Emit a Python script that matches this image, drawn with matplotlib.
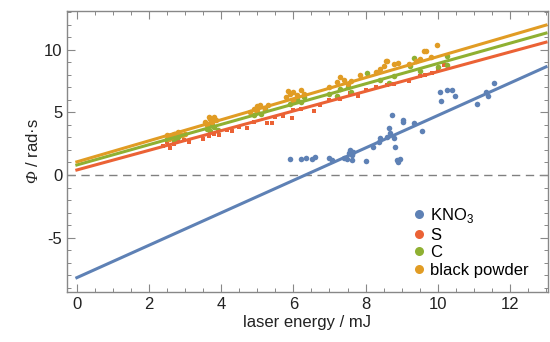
import matplotlib.pyplot as plt
import numpy as np
from matplotlib.lines import Line2D
from matplotlib.ticker import MultipleLocator

plt.rcParams['font.family'] = ['Liberation Sans', 'DejaVu Sans']
plt.rcParams['axes.unicode_minus'] = False
# italic serif for the Phi, sans for the subscript
plt.rcParams['mathtext.fontset'] = 'custom'
plt.rcParams['mathtext.rm'] = 'Liberation Serif:italic'
plt.rcParams['mathtext.sf'] = 'Liberation Sans'

# measured phase vs laser energy
kno3_x = [5.91, 6.2, 6.35, 6.51, 6.59, 6.98, 7.07, 7.39, 7.48, 7.53, 7.58, 7.62, 7.62, 7.65,
          8.02, 8.22, 8.36, 8.41, 8.59, 8.64, 8.68, 8.73, 8.78, 8.82, 8.87, 8.91, 8.96, 9.05,
          9.05, 9.33, 9.56, 10.05, 10.09, 10.27, 10.39, 10.49, 11.1, 11.34, 11.38, 11.57]
kno3_y = [1.25, 1.3, 1.35, 1.25, 1.41, 1.33, 1.2, 1.33, 1.25, 1.73, 2.0, 1.6, 1.2, 1.85,
          1.12, 2.27, 2.67, 2.93, 3.07, 3.73, 3.33, 4.8, 2.93, 2.27, 1.2, 1.07, 1.25, 4.27,
          4.4, 4.13, 3.55, 6.59, 5.87, 6.8, 6.75, 6.32, 5.68, 6.59, 6.27, 7.33]

s_x = [2.4, 2.5, 2.59, 2.7, 2.8, 2.96, 3.1, 3.5, 3.65, 3.8, 3.95, 4.16, 4.3, 4.5, 4.71, 4.9,
       5.27, 5.41, 5.5, 5.7, 5.96, 6.0, 6.2, 6.56, 6.75, 7.0, 7.3, 7.58, 7.8, 8.0, 8.3, 8.59,
       8.8, 9.2, 9.5, 9.65, 9.84, 10.0, 10.16]
s_y = [2.3, 2.6, 2.13, 2.5, 2.7, 2.8, 2.6, 2.9, 3.1, 3.3, 3.2, 3.6, 3.5, 3.8, 3.73, 4.2,
       4.13, 4.13, 4.6, 4.7, 4.53, 5.2, 5.3, 5.07, 5.6, 6.0, 6.1, 6.53, 6.3, 6.8, 7.0, 7.2,
       7.3, 7.5, 7.9, 8.0, 8.13, 8.5, 8.8]

c_x = [2.5, 2.6, 2.7, 2.8, 2.9, 3.6, 3.7, 3.75, 3.8, 3.9, 4.9, 5.0, 5.1, 5.2, 5.9, 6.0, 6.1,
       6.2, 6.3, 7.0, 7.2, 7.3, 7.5, 7.6, 8.04, 8.4, 8.64, 8.8, 9.24, 9.33, 9.5, 10.0, 10.25,
       10.25]
c_y = [2.9, 3.1, 2.8, 3.0, 3.2, 3.7, 3.5, 4.0, 3.8, 3.6, 4.8, 5.0, 4.9, 5.3, 5.7, 5.9, 6.1,
       5.8, 6.2, 6.5, 6.27, 6.9, 7.0, 6.6, 8.13, 7.6, 7.33, 7.9, 8.67, 9.33, 8.3, 8.6, 9.47,
       8.8]

bp_x = [2.5, 2.55, 2.6, 2.7, 2.8, 2.9, 3.0, 3.56, 3.6, 3.65, 3.7, 3.75, 3.8, 3.85, 4.8, 4.9,
        4.99, 5.0, 5.08, 5.2, 5.3, 5.8, 5.85, 5.9, 6.0, 6.0, 6.1, 6.2, 6.3, 7.0, 7.2, 7.3,
        7.4, 7.5, 7.6, 7.85, 8.3, 8.4, 8.5, 8.57, 8.6, 8.8, 8.89, 9.2, 9.4, 9.5, 9.61, 9.68,
        9.8, 9.98]
bp_y = [3.2, 2.9, 3.0, 3.3, 3.4, 3.2, 3.3, 4.27, 4.0, 4.67, 4.5, 4.2, 4.6, 4.4, 5.0, 5.3,
        5.47, 5.1, 5.6, 5.2, 5.6, 6.2, 6.7, 6.5, 6.6, 6.0, 6.4, 6.8, 6.5, 7.0, 7.4, 7.8,
        7.6, 7.3, 7.5, 8.0, 8.2, 8.5, 8.7, 9.14, 9.1, 8.9, 8.93, 8.9, 9.1, 9.3, 9.87, 9.92,
        9.4, 10.4]

# linear fits (intercept, slope)
fits = {'KNO3': (-8.2, 1.295), 'S': (0.4, 0.785), 'C': (0.8, 0.81), 'bp': (1.05, 0.84)}

colors = {'KNO3': '#5E81B5', 'S': '#EB6235', 'C': '#8FB032', 'bp': '#E19C24'}
labels = {'KNO3': r'KNO$_\mathsf{3}$', 'S': 'S', 'C': 'C', 'bp': 'black powder'}

fig = plt.figure(figsize=(5.5, 3.42), dpi=100)
ax = fig.add_axes([0.122, 0.146, 0.874, 0.822])

ax.axhline(0, color='#808080', lw=1, ls=(0, (6, 4)), zorder=1)

xf = np.array([0, 13])
series = [('KNO3', kno3_x, kno3_y, 'o'), ('S', s_x, s_y, 's'),
          ('C', c_x, c_y, 'o'), ('bp', bp_x, bp_y, 'o')]
for key, xs, ys, mk in series:
    ax.plot(xs, ys, mk, color=colors[key], ms=4 if mk == 'o' else 3.3, mew=0, zorder=2)
    a, b = fits[key]
    ax.plot(xf, a + b * xf, color=colors[key], lw=2.2, zorder=3)

ax.set_xlim(-0.27, 13.05)
ax.set_ylim(-9.35, 13.1)
ax.xaxis.set_major_locator(MultipleLocator(2))
ax.xaxis.set_minor_locator(MultipleLocator(0.5))
ax.yaxis.set_major_locator(MultipleLocator(5))
ax.yaxis.set_minor_locator(MultipleLocator(1))
ax.tick_params(which='both', direction='in', top=True, right=True, color='#888888',
               labelsize=12, labelcolor='#222222')
ax.tick_params(which='major', length=6, width=0.8)
ax.tick_params(which='minor', length=3, width=0.7)
for sp in ax.spines.values():
    sp.set_color('#888888')
    sp.set_linewidth(1)

ax.set_xlabel('laser energy / mJ', fontsize=12, color='#222222', labelpad=2)
ax.set_ylabel(r'$\Phi$ / rad·s', fontsize=12, color='#222222', labelpad=2)

handles = [Line2D([], [], ls='none', marker='o', ms=6.5, mew=0, color=colors[k])
           for k in ['KNO3', 'S', 'C', 'bp']]
ax.legend(handles, [labels[k] for k in ['KNO3', 'S', 'C', 'bp']], loc='lower right',
          frameon=False, fontsize=12, handlelength=0.6, handletextpad=0.35,
          labelspacing=0.15, borderaxespad=0.3, bbox_to_anchor=(0.985, 0.01))

fig.savefig('out.png', dpi=100)
